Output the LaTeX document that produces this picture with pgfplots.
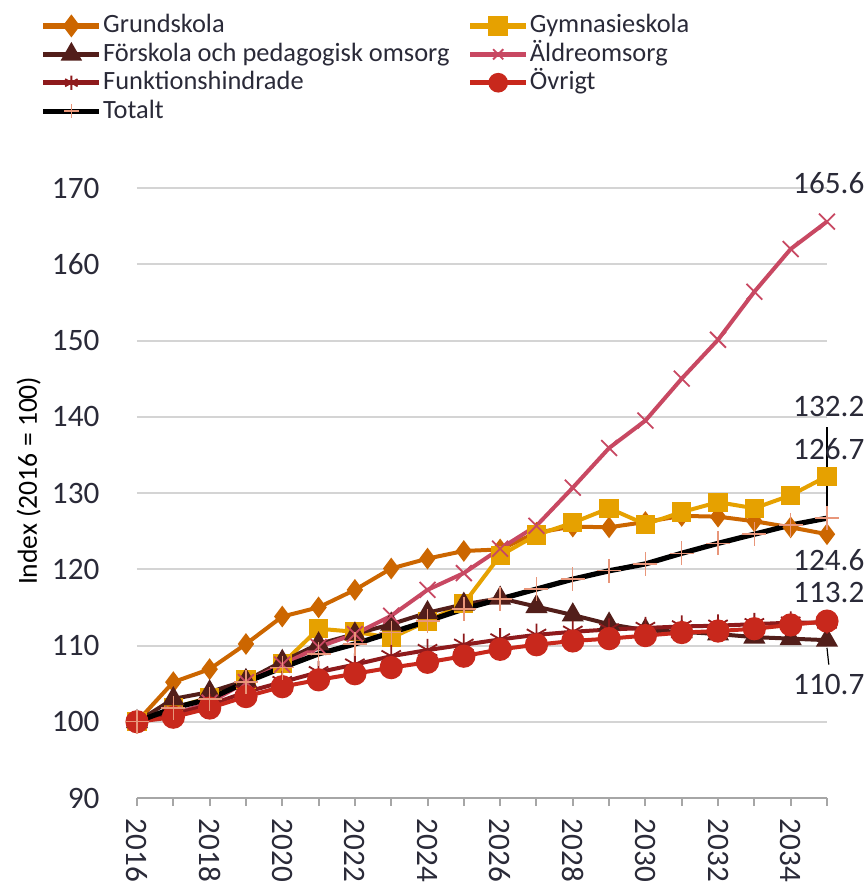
\documentclass[border=0pt]{standalone}
\usepackage{pgfplots}
\pgfplotsset{compat=1.18}
\usepackage{fontspec}
\setmainfont{Carlito}

\definecolor{grund}{HTML}{CC6600}
\definecolor{gymn}{HTML}{E6A100}
\definecolor{forsk}{HTML}{521E1A}
\definecolor{aldre}{HTML}{C84862}
\definecolor{funk}{HTML}{8E1A1C}
\definecolor{ovr}{HTML}{C8281C}
\definecolor{salmon}{HTML}{E8967A}
\definecolor{txt}{HTML}{2A2A38}

\begin{document}
\begin{tikzpicture}
\begin{axis}[
    at={(0,0)}, anchor=south west,
    scale only axis,
    width=172.5pt, height=152.5pt,
    xmin=2016, xmax=2035,
    ymin=90, ymax=170,
    axis lines*=left,
    y axis line style={draw=none},
    x axis line style={draw=black!35, line width=0.5pt},
    ytick={90,100,...,170},
    ytick style={draw=none},
    xtick={2016,2018,...,2034},
    minor xtick={2017,2019,...,2035},
    xtick align=outside,
    major tick length=2pt, minor tick length=2pt,
    xtick style={draw=black!35, line width=0.5pt},
    minor x tick style={draw=black!35, line width=0.5pt},
    ymajorgrids=true,
    grid style={draw=black!17, line width=0.5pt},
    /pgf/number format/1000 sep={},
    /pgf/number format/assume math mode=true,
    ticklabel style={font=\fontsize{7.8}{9}\selectfont, text=txt},
    yticklabel style={inner sep=0pt, xshift=-9.2pt},
    xticklabel style={rotate=-90, anchor=west, inner sep=0pt, xshift=3pt},
    ylabel={Index (2016 = 100)},
    ylabel style={at={(axis description cs:-0.157,0.52)}, anchor=center, rotate=0,
        font=\fontsize{6.9}{8}\selectfont, text=black},
    legend columns=2,
    legend cell align=left,
    legend style={at={(axis description cs:-0.158,1.3035)}, anchor=north west,
        draw=none, fill=none, row sep=0pt,
        font=\fontsize{6.6}{8}\selectfont, text=txt,
        nodes={inner xsep=0.3pt, inner ysep=0.3pt, text height=5pt, text depth=1.5pt},
        /tikz/every even column/.append style={column sep=4.2pt}},
    legend image code/.code={
        \draw[mark repeat=2, mark phase=2, #1, line width=1.3pt, mark size=1.8pt] plot coordinates {(0pt,0pt) (7pt,0pt) (14pt,0pt)};},
    clip=false,
]
\addplot[grund, line width=1pt, mark=diamond*, mark size=1.9pt] coordinates {
(2016,100)(2017,105.2)(2018,106.9)(2019,110.2)(2020,113.8)(2021,115.0)(2022,117.3)(2023,120.1)(2024,121.4)(2025,122.4)
(2026,122.6)(2027,124.8)(2028,125.6)(2029,125.5)(2030,126.2)(2031,127.0)(2032,126.9)(2033,126.3)(2034,125.5)(2035,124.6)};
\addlegendentry{Grundskola}
\addplot[gymn, line width=1pt, mark=square*, mark size=1.9pt] coordinates {
(2016,100)(2017,101.8)(2018,103.2)(2019,105.5)(2020,107.6)(2021,112.2)(2022,111.8)(2023,111.0)(2024,113.2)(2025,115.5)
(2026,121.8)(2027,124.5)(2028,126.1)(2029,128.0)(2030,125.9)(2031,127.5)(2032,128.8)(2033,128.0)(2034,129.7)(2035,132.2)};
\addlegendentry{Gymnasieskola}
\addplot[forsk, line width=1pt, mark=triangle*, mark size=2.2pt] coordinates {
(2016,100)(2017,103.0)(2018,103.9)(2019,105.4)(2020,107.9)(2021,110.2)(2022,111.5)(2023,112.8)(2024,114.3)(2025,115.4)
(2026,116.2)(2027,115.1)(2028,114.0)(2029,112.8)(2030,112.0)(2031,111.8)(2032,111.5)(2033,111.1)(2034,110.9)(2035,110.7)};
\addlegendentry{Förskola och pedagogisk omsorg}
\addplot[aldre, line width=1pt, mark=x, mark size=2.8pt, mark options={line width=0.45pt}] coordinates {
(2016,100)(2017,101.0)(2018,102.5)(2019,105.2)(2020,107.5)(2021,109.8)(2022,111.5)(2023,113.9)(2024,117.3)(2025,119.5)
(2026,122.7)(2027,125.7)(2028,130.7)(2029,135.9)(2030,139.5)(2031,145.0)(2032,150.1)(2033,156.4)(2034,162.0)(2035,165.6)};
\addlegendentry{Äldreomsorg}
\addplot[funk, line width=1pt, mark=asterisk, mark size=2.8pt, mark options={line width=0.45pt}] coordinates {
(2016,100)(2017,101.0)(2018,102.2)(2019,103.9)(2020,105.2)(2021,106.5)(2022,107.5)(2023,108.6)(2024,109.4)(2025,110.1)
(2026,110.8)(2027,111.4)(2028,111.8)(2029,112.1)(2030,112.3)(2031,112.5)(2032,112.6)(2033,112.8)(2034,113.0)(2035,113.0)};
\addlegendentry{Funktionshindrade}
\addplot[ovr, line width=1pt, mark=*, mark size=2.4pt] coordinates {
(2016,100)(2017,100.6)(2018,101.8)(2019,103.3)(2020,104.6)(2021,105.5)(2022,106.3)(2023,107.1)(2024,107.8)(2025,108.6)
(2026,109.5)(2027,110.1)(2028,110.6)(2029,110.9)(2030,111.3)(2031,111.7)(2032,111.9)(2033,112.2)(2034,112.7)(2035,113.2)};
\addlegendentry{Övrigt}
\addplot[black, line width=1.3pt, mark=+, mark size=3pt, mark options={salmon, line width=0.35pt}] coordinates {
(2016,100)(2017,101.8)(2018,103.0)(2019,105.2)(2020,107.1)(2021,108.9)(2022,110.2)(2023,111.7)(2024,113.2)(2025,114.8)
(2026,116.1)(2027,117.4)(2028,118.7)(2029,119.8)(2030,120.7)(2031,122.1)(2032,123.4)(2033,124.6)(2034,125.8)(2035,126.7)};
\addlegendentry{Totalt}

\draw[black, line width=0.3pt] (axis cs:2035,138.6) -- (axis cs:2035,126.7);
\draw[black, line width=0.3pt] (axis cs:2035,109.7) -- (axis cs:2035.05,107.5);
\begin{scope}[every node/.style={font=\fontsize{7.8}{9}\selectfont, text=txt, inner sep=0pt, anchor=center}]
\node at (axis cs:2035.05,170.7) {165.6};
\node at (axis cs:2035.05,141.3) {132.2};
\node at (axis cs:2035.05,135.7) {126.7};
\node at (axis cs:2035.05,121.2) {124.6};
\node at (axis cs:2035.05,117.0) {113.2};
\node at (axis cs:2035.05,104.9) {110.7};
\end{scope}
\end{axis}
\pgfresetboundingbox
\path (-34.25pt,-21pt) rectangle (182.25pt,199.5pt);
\end{tikzpicture}
\end{document}
